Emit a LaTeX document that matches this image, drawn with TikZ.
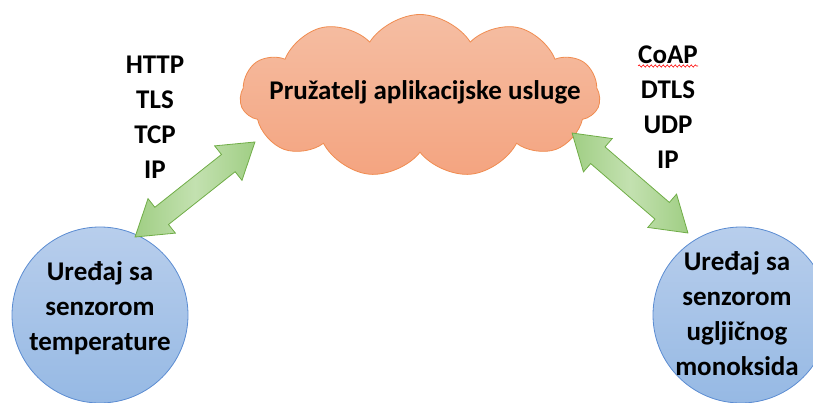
\documentclass[tikz,border=0pt]{standalone}
\usepackage{fontspec}
\setmainfont{Carlito}
\usetikzlibrary{shapes.symbols,calc,decorations.pathmorphing}
\tikzset{
  lbl/.style={font=\fontsize{27}{35}\selectfont\bfseries, align=center, inner sep=0pt},
  dev/.style={circle, minimum size=176pt, inner sep=0pt, draw={rgb,255:red,91;green,140;blue,210}, line width=0.8pt,
     top color={rgb,255:red,184;green,206;blue,236}, bottom color={rgb,255:red,150;green,185;blue,228}},
  arr/.style={draw={rgb,255:red,112;green,173;blue,71}, line width=0.8pt,
     left color={rgb,255:red,160;green,206;blue,132}, right color={rgb,255:red,160;green,206;blue,132},
     middle color={rgb,255:red,195;green,225;blue,176}},
}
\newcommand{\dblarrow}{(-76.5,0) -- (-42.5,22) -- (-42.5,11) -- (42.5,11) -- (42.5,22) -- (76.5,0) -- (42.5,-22) -- (42.5,-11) -- (-42.5,-11) -- (-42.5,-22) -- cycle}
\begin{document}
\begin{tikzpicture}[x=1pt,y=-1pt]
\useasboundingbox (0,0) rectangle (813,403);
\clip (0,0) rectangle (813,403);
% cloud
\node[cloud, cloud puffs=11, cloud puff arc=115, aspect=2.2, minimum width=360pt, minimum height=163pt,
  draw={rgb,255:red,240;green,140;blue,80}, line width=0.8pt,
  top color={rgb,255:red,245;green,190;blue,163}, bottom color={rgb,255:red,244;green,164;blue,128}] (cloud) at (420,96) {};
\node[lbl] (cloudtxt) at (425,92) {Pružatelj aplikacijske usluge};
% devices
\node[dev] (dl) at (100,315) {};
\node[lbl] (dltxt) at (100,308) {Uređaj sa\\senzorom\\temperature};
\node[dev] (dr) at (741,315) {};
\node[lbl] (drtxt) at (737,314) {Uređaj sa\\senzorom\\ugljičnog\\monoksida};
% protocol stacks
\node[lbl] (pl) at (155,117) {HTTP\\TLS\\TCP\\IP};
\node[lbl] (pr) at (668,107) {CoAP\\DTLS\\UDP\\IP};
\coordinate (sq1) at (638,66);
\coordinate (sq2) at (698,66);
\draw[red, line width=0.6pt, decorate, decoration={snake, amplitude=1.1pt, segment length=4pt}] (sq1) -- (sq2);
% arrows
\coordinate (la) at (135,237);
\coordinate (lb) at (255,142);
\coordinate (ra) at (572,133);
\coordinate (rb) at (688,233);
\begin{scope}[shift={($(la)!0.5!(lb)$)}, rotate=38.4]
  \path[arr] \dblarrow;
\end{scope}
\begin{scope}[shift={($(ra)!0.5!(rb)$)}, rotate=-40.8]
  \path[arr] \dblarrow;
\end{scope}
\end{tikzpicture}
\end{document}
